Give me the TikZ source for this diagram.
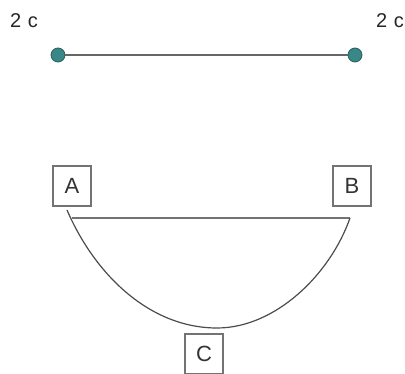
\documentclass[tikz,border=0pt]{standalone}
\usepackage{fontspec}
\setmainfont{Liberation Sans}
\definecolor{dotteal}{RGB}{58,135,135}
\tikzset{
  pt/.style={circle, inner sep=0pt, minimum size=14pt, fill=dotteal, draw=dotteal!70!black, line width=0.8pt},
  lbl/.style={inner sep=0pt, text=black!85, font=\fontsize{20}{22}\selectfont},
  vbox/.style={draw=black!55, fill=white, line width=1.3pt, minimum width=38pt, minimum height=40pt, inner sep=0pt, text=black!80, font=\fontsize{22}{24}\selectfont}
}

\begin{document}
\begin{tikzpicture}[x=1pt,y=-1pt]
\useasboundingbox (0,0) rectangle (405,374);
% top segment
\node[lbl] (lft) at (24,21) {2\,\,c};
\node[lbl] (rgt) at (390,21) {2\,\,c};
\node[pt] (p) at (58,55) {};
\node[pt] (q) at (355,55) {};
\draw[black!60, line width=2pt] (p) -- (q);
% chord and arc
\node[vbox] (A) at (72,186) {A};
\node[vbox] (B) at (352,186) {B};
\node[vbox] (C) at (204,354) {C};
\coordinate (a) at (67,210);
\coordinate (a2) at (72,218);
\coordinate (b) at (350,218);
\coordinate (c) at (217,328);
\draw[black!55, line width=1.4pt] (a2) -- (b);
\draw[black!70, line width=1.2pt] (a) .. controls (95,275) and (150,328) .. (c)
  .. controls (275,328) and (330,275) .. (b);
\end{tikzpicture}
\end{document}
